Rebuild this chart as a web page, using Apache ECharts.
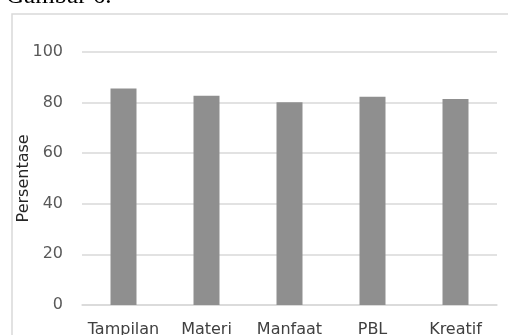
<!DOCTYPE html>
<html>
<head>
<meta charset="utf-8">
<script src="https://cdn.jsdelivr.net/npm/echarts@6/dist/echarts.min.js"></script>
<style>
html,body{margin:0;padding:0;background:#fff;}
#chart{width:508px;height:335px;}
</style>
</head>
<body>
<div id="chart"></div>
<script>
const categories = ['Tampilan', 'Materi', 'Manfaat', 'PBL', 'Kreatif'];
const values = [85.5, 82.6, 80.0, 82.2, 81.3];
const yTicks = { min: 0, max: 100, interval: 20 };
const yAxisName = 'Persentase';
const captionText = 'Gambar 6.';

const chart = echarts.init(document.getElementById('chart'), null, { renderer: 'canvas' });
chart.setOption({
  animation: false,
  backgroundColor: '#ffffff',
  title: {
    text: captionText,
    left: 6,
    top: -16,
    padding: 0,
    textStyle: {
      fontFamily: 'Liberation Serif',
      fontSize: 25,
      lineHeight: 25,
      fontWeight: 'normal',
      color: '#000000'
    }
  },
  graphic: [
    {
      type: 'rect',
      shape: { x: 12, y: 14, width: 620, height: 420 },
      style: { fill: 'none', stroke: '#d9d9d9', lineWidth: 1.5 },
      silent: true
    }
  ],
  grid: { left: 82, right: 11, top: 51.7, bottom: 30, containLabel: false, outerBoundsMode: 'none' },
  xAxis: {
    type: 'category',
    data: categories,
    axisLine: { show: true, lineStyle: { color: '#d9d9d9', width: 1.5 } },
    axisTick: { show: false },
    axisLabel: {
      color: '#404040',
      fontFamily: 'DejaVu Sans',
      fontSize: 16,
      margin: 17,
      interval: 0
    }
  },
  yAxis: {
    type: 'value',
    min: yTicks.min,
    max: yTicks.max,
    interval: yTicks.interval,
    name: yAxisName,
    nameLocation: 'middle',
    nameGap: 50,
    nameMoveOverlap: false,
    nameTextStyle: { color: '#262626', fontFamily: 'DejaVu Sans', fontSize: 16 },
    axisLine: { show: false },
    axisTick: { show: false },
    axisLabel: {
      color: '#595959',
      fontFamily: 'DejaVu Sans',
      fontSize: 16,
      margin: 19
    },
    splitLine: { lineStyle: { color: '#d9d9d9', width: 1.5 } }
  },
  series: [{
    type: 'bar',
    data: values,
    barWidth: 26,
    itemStyle: { color: '#8f8f8f' }
  }]
});
</script>
</body>
</html>
